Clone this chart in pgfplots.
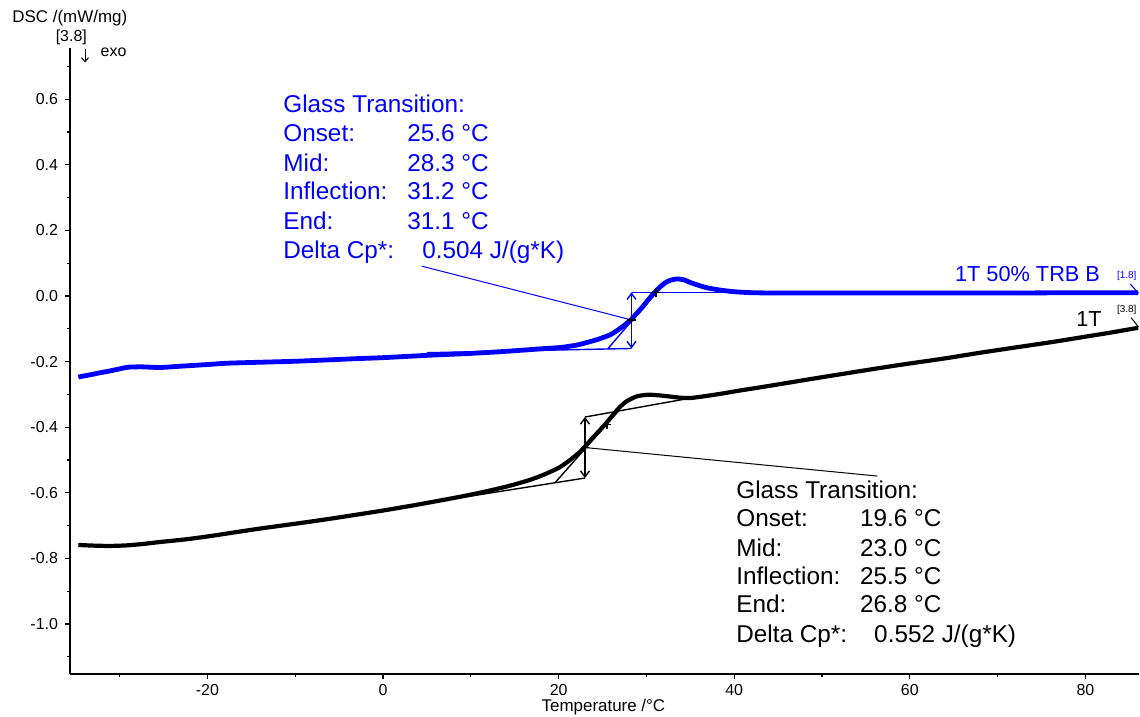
\documentclass[border=0pt]{standalone}
\usepackage{fontspec}
\setmainfont{Liberation Sans}
\usepackage{pgfplots}
\usepackage{pgfplotstable}
\pgfplotsset{compat=1.18}
\usetikzlibrary{arrows.meta}

\pgfplotstableread{
x y
-34.7 -0.247
-33.5 -0.241
-32.2 -0.234
-31.0 -0.228
-29.8 -0.221
-29.0 -0.217
-27.5 -0.216
-25.4 -0.218
-23.0 -0.214
-20.0 -0.209
-17.8 -0.205
-14.0 -0.202
-10.0 -0.199
-6.4 -0.195
-3.0 -0.191
0 -0.188
5.0 -0.181
10.0 -0.175
13.3 -0.170
16.0 -0.165
18.0 -0.161
20.2 -0.157
22.0 -0.150
23.2 -0.142
24.5 -0.132
25.9 -0.118
27.0 -0.099
28.1 -0.076
28.8 -0.056
29.5 -0.035
30.2 -0.012
31.0 0.013
31.7 0.031
32.3 0.043
33.0 0.050
33.6 0.052
34.3 0.049
35.0 0.041
36.0 0.032
36.9 0.025
38.4 0.018
40.0 0.013
42.0 0.010
45 0.009
50 0.009
60 0.009
70 0.009
80 0.010
86.0 0.010
}\bluedata

\pgfplotstableread{
x y
-34.7 -0.759
-33.0 -0.761
-31.1 -0.762
-29.0 -0.760
-27.0 -0.755
-25.4 -0.750
-22.5 -0.742
-19.7 -0.732
-17.0 -0.721
-14.0 -0.709
-11.0 -0.698
-8.3 -0.688
-5.5 -0.677
-2.6 -0.665
0 -0.654
3.1 -0.640
6.0 -0.626
8.8 -0.612
11.0 -0.600
12.5 -0.591
14.5 -0.578
16.7 -0.561
18.2 -0.546
19.3 -0.533
20.2 -0.521
21.3 -0.500
22.4 -0.476
22.9 -0.462
23.8 -0.435
24.7 -0.409
25.5 -0.385
26.2 -0.362
27.0 -0.338
27.8 -0.320
28.9 -0.306
29.8 -0.302
30.4 -0.301
31.5 -0.303
32.5 -0.306
33.8 -0.310
35.0 -0.311
36.5 -0.306
38.5 -0.298
40.7 -0.288
44 -0.274
48.3 -0.255
52 -0.239
56 -0.222
58.9 -0.210
62 -0.198
64.3 -0.189
68 -0.173
72 -0.157
76.3 -0.140
80 -0.124
83 -0.111
86.0 -0.097
}\blackdata

\tikzset{
  gtb/.style={anchor=base west, text=blue, font=\fontsize{12.2}{14}\selectfont, inner sep=0pt},
  gtk/.style={anchor=base west, text=black, font=\fontsize{12.2}{14}\selectfont, inner sep=0pt},
}

\begin{document}
\begin{tikzpicture}
\useasboundingbox (-35bp,-21.5bp) rectangle (535bp,337bp);
\begin{axis}[
  at={(0,0)}, anchor=south west,
  scale only axis, width=534.5bp, height=313bp,
  xmin=-35.65, xmax=86.1, ymin=-1.1524, ymax=0.756,
  axis x line=bottom, axis y line=left,
  axis line style={-, line width=0.8bp},
  tick align=outside,
  xtick={-20,0,20,40,60,80}, xticklabels={-20,0,20,40,60,80},
  minor xtick={-30,-10,10,30,50,70},
  ytick={-1,-0.8,-0.6,-0.4,-0.2,0,0.2,0.4,0.6},
  yticklabels={-1.0,-0.8,-0.6,-0.4,-0.2,0.0,0.2,0.4,0.6},
  minor ytick={-1.1,-0.9,-0.7,-0.5,-0.3,-0.1,0.1,0.3,0.5,0.7},
  major tick length=2.5bp, minor tick length=1.5bp,
  tick style={line width=0.6bp, black},
  ticklabel style={font=\fontsize{8}{9.6}\selectfont},
  xticklabel style={yshift=1bp},
  clip=false,
  every axis plot/.append style={line join=round},
]
% curves
\addplot[blue, line width=2.4bp, smooth, tension=0.4] table {\bluedata};
\addplot[black, line width=2.1bp, smooth, tension=0.4] table {\blackdata};

% blue construction
\addplot[blue, line width=0.7bp] coordinates {(28.3,0.011) (86.0,0.011)};
\addplot[blue, line width=0.7bp] coordinates {(5,-0.173) (28.3,-0.160)};
\addplot[blue, line width=0.7bp] coordinates {(25.6,-0.161) (31.1,0.011)};
\addplot[blue, line width=0.7bp, {Straight Barb[length=3bp,width=4.5bp]}-{Straight Barb[length=3bp,width=4.5bp]}] coordinates {(28.3,0.011) (28.3,-0.160)};
\addplot[blue, line width=0.5bp] coordinates {(4.4,0.091) (28.3,-0.073)};
\addplot[black, only marks, mark=+, mark size=2.2bp, mark options={line width=0.8bp}] coordinates {(28.3,-0.073) (31.1,0.011)};

% black construction
\addplot[black, line width=0.7bp] coordinates {(23.0,-0.369) (38,-0.297)};
\addplot[black, line width=0.7bp] coordinates {(5,-0.631) (23.0,-0.555)};
\addplot[black, line width=0.7bp] coordinates {(19.6,-0.569) (26.8,-0.351)};
\addplot[black, line width=0.7bp, {Straight Barb[length=3bp,width=4.5bp]}-{Straight Barb[length=3bp,width=4.5bp]}] coordinates {(23.0,-0.369) (23.0,-0.555)};
\addplot[black, line width=0.5bp] coordinates {(23.0,-0.462) (56.3,-0.549)};
\addplot[black, only marks, mark=+, mark size=2.2bp, mark options={line width=0.8bp}] coordinates {(23.0,-0.462) (25.5,-0.392)};

% end leaders
\addplot[blue, line width=0.5bp] coordinates {(85.1,0.037) (86.05,0.008)};
\addplot[black, line width=0.5bp] coordinates {(85.2,-0.066) (86.05,-0.095)};

% blue text block
\node[gtb] at (axis cs:-11.39,0.558) {Glass Transition:};
\node[gtb] at (axis cs:-11.39,0.470) {Onset:};
\node[gtb] at (axis cs:-11.39,0.381) {Mid:};
\node[gtb] at (axis cs:-11.39,0.293) {Inflection:};
\node[gtb] at (axis cs:-11.39,0.204) {End:};
\node[gtb] at (axis cs:-11.39,0.113) {Delta Cp*:};
\node[gtb] at (axis cs:2.73,0.470) {25.6 °C};
\node[gtb] at (axis cs:2.73,0.381) {28.3 °C};
\node[gtb] at (axis cs:2.73,0.293) {31.2 °C};
\node[gtb] at (axis cs:2.73,0.204) {31.1 °C};
\node[gtb] at (axis cs:4.44,0.113) {0.504 J/(g*K)};

% black text block
\node[gtk] at (axis cs:40.2,-0.616) {Glass Transition:};
\node[gtk] at (axis cs:40.2,-0.704) {Onset:};
\node[gtk] at (axis cs:40.2,-0.793) {Mid:};
\node[gtk] at (axis cs:40.2,-0.881) {Inflection:};
\node[gtk] at (axis cs:40.2,-0.966) {End:};
\node[gtk] at (axis cs:40.2,-1.055) {Delta Cp*:};
\node[gtk] at (axis cs:54.3,-0.704) {19.6 °C};
\node[gtk] at (axis cs:54.3,-0.793) {23.0 °C};
\node[gtk] at (axis cs:54.3,-0.881) {25.5 °C};
\node[gtk] at (axis cs:54.3,-0.966) {26.8 °C};
\node[gtk] at (axis cs:55.9,-1.055) {0.552 J/(g*K)};

% curve labels
\node[anchor=base east, text=blue, inner sep=0pt, font=\fontsize{10.9}{12}\selectfont] at (axis cs:81.7,0.043) {1T 50\% TRB B};
\node[anchor=base east, text=black, inner sep=0pt, font=\fontsize{10.9}{12}\selectfont] at (axis cs:81.9,-0.094) {1T};
\node[text=blue, inner sep=0pt, font=\fontsize{5}{6}\selectfont] at (axis cs:84.7,0.062) {[1.8]};
\node[text=black, inner sep=0pt, font=\fontsize{5}{6}\selectfont] at (axis cs:84.7,-0.041) {[3.8]};

% top-left labels
\node[anchor=west, inner sep=0pt, font=\fontsize{8.5}{10}\selectfont] at (axis cs:-42.25,0.848) {DSC /(mW/mg)};
\node[inner sep=0pt, font=\fontsize{8}{10}\selectfont] at (axis cs:-35.5,0.787) {[3.8]};
\node[anchor=west, inner sep=0pt, font=\fontsize{8}{10}\selectfont] at (axis cs:-32.2,0.744) {exo};
\addplot[black, line width=0.5bp, -{Straight Barb[length=2bp,width=3.5bp]}] coordinates {(-33.94,0.752) (-33.94,0.712)};

% x label
\node[font=\fontsize{8.5}{10}\selectfont, inner sep=0pt] at (axis cs:25.1,-1.253) {Temperature /°C};
\end{axis}
\end{tikzpicture}
\end{document}
